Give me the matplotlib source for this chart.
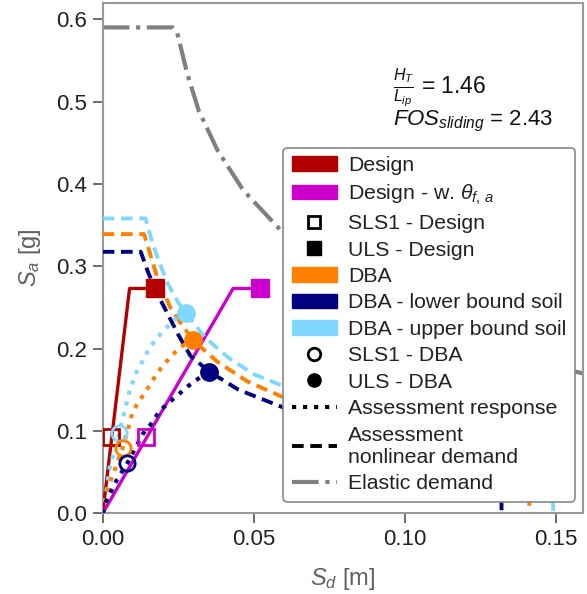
import matplotlib
matplotlib.use('Agg')
import matplotlib.pyplot as plt
from matplotlib.lines import Line2D
from matplotlib.patches import Patch

plt.rcParams['font.family'] = ['Liberation Sans', 'DejaVu Sans']
plt.rcParams['mathtext.fontset'] = 'custom'
plt.rcParams['mathtext.rm'] = 'Liberation Sans'
plt.rcParams['mathtext.it'] = 'Liberation Sans:italic'
plt.rcParams['mathtext.bf'] = 'Liberation Sans:bold'

# ---------------- data ----------------
# Elastic demand spectrum (ADRS)
elastic_sd = [0.0, 0.0232, 0.0247, 0.028, 0.0318, 0.038, 0.0466, 0.0589, 0.08, 0.10, 0.12, 0.14, 0.159]
elastic_sa = [0.59, 0.59, 0.583, 0.534, 0.489, 0.441, 0.392, 0.344, 0.277, 0.237, 0.208, 0.186, 0.170]

# Design capacity curves
design_sd = [0.0, 0.0089, 0.0173]
design_sa = [0.0, 0.273, 0.273]
design_sls = [0.00265, 0.093]
design_uls = [0.0173, 0.273]

designw_sd = [0.0, 0.0432, 0.0521]
designw_sa = [0.0, 0.273, 0.273]
designw_sls = [0.0142, 0.093]
designw_uls = [0.0521, 0.273]

# DBA assessment response (capacity) curves
dba_resp_sd = [0.0, 0.00185, 0.0066, 0.0101, 0.0146, 0.0184, 0.0229, 0.0267, 0.0300]
dba_resp_sa = [0.0, 0.032, 0.079, 0.125, 0.150, 0.172, 0.192, 0.204, 0.210]
dba_sls = [0.0066, 0.079]
dba_uls = [0.0300, 0.210]

lb_resp_sd = [0.0, 0.0013, 0.0046, 0.0082, 0.0134, 0.0157, 0.0190, 0.0250, 0.0278, 0.0306, 0.0353]
lb_resp_sa = [0.0, 0.016, 0.040, 0.061, 0.097, 0.107, 0.125, 0.144, 0.153, 0.161, 0.172]
lb_sls = [0.0082, 0.061]
lb_uls = [0.0353, 0.172]

ub_resp_sd = [0.0, 0.0008, 0.0024, 0.0055, 0.0068, 0.0090, 0.0113, 0.0157, 0.0201, 0.0245, 0.0276]
ub_resp_sa = [0.0, 0.016, 0.057, 0.097, 0.117, 0.150, 0.172, 0.202, 0.222, 0.237, 0.243]
ub_sls = [0.0055, 0.097]
ub_uls = [0.0276, 0.243]

# DBA assessment nonlinear demand curves
dba_dem_sd = [0.0, 0.0137, 0.0153, 0.018, 0.0225, 0.026, 0.0300, 0.038, 0.048, 0.0622, 0.09, 0.12, 0.1413, 0.1413]
dba_dem_sa = [0.339, 0.339, 0.320, 0.287, 0.249, 0.230, 0.210, 0.184, 0.160, 0.137, 0.109, 0.091, 0.082, 0.0]

lb_dem_sd = [0.0, 0.0126, 0.015, 0.018, 0.0214, 0.025, 0.0291, 0.0353, 0.045, 0.0622, 0.09, 0.12, 0.1321, 0.1321]
lb_dem_sa = [0.3175, 0.3175, 0.293, 0.267, 0.243, 0.217, 0.191, 0.172, 0.150, 0.125, 0.098, 0.080, 0.074, 0.0]

ub_dem_sd = [0.0, 0.0142, 0.016, 0.018, 0.0214, 0.025, 0.0276, 0.034, 0.042, 0.05, 0.0622, 0.09, 0.12, 0.1492, 0.1492]
ub_dem_sa = [0.358, 0.358, 0.334, 0.312, 0.280, 0.256, 0.243, 0.213, 0.188, 0.169, 0.151, 0.119, 0.099, 0.085, 0.0]

# ---------------- styles ----------------
c_design = '#B30000'
c_designw = '#CC00CC'
c_dba = '#FF8000'
c_lb = '#000080'
c_ub = '#80D8FF'
c_el = '#808080'

fig = plt.figure(figsize=(5.87, 5.94), dpi=100)
ax = fig.add_axes([102.7 / 587, (594 - 513.3) / 594, 480 / 587, 510.6 / 594])

# elastic demand
ax.plot(elastic_sd, elastic_sa, color=c_el, lw=3, ls='-.', zorder=2)

# design
ax.plot(design_sd, design_sa, color=c_design, lw=2.4, zorder=3)
ax.plot(*design_sls, marker='s', ms=11, mfc='none', mec=c_design, mew=2, ls='none', zorder=5)
ax.plot(*design_uls, marker='s', ms=12.5, color=c_design, ls='none', zorder=5)
ax.plot(designw_sd, designw_sa, color=c_designw, lw=2.4, zorder=3)
ax.plot(*designw_sls, marker='s', ms=11, mfc='none', mec=c_designw, mew=2, ls='none', zorder=5)
ax.plot(*designw_uls, marker='s', ms=12.5, color=c_designw, ls='none', zorder=5)

# DBA curves
for dsd, dsa, rsd, rsa, sls, uls, c in [
    (ub_dem_sd, ub_dem_sa, ub_resp_sd, ub_resp_sa, ub_sls, ub_uls, c_ub),
    (dba_dem_sd, dba_dem_sa, dba_resp_sd, dba_resp_sa, dba_sls, dba_uls, c_dba),
    (lb_dem_sd, lb_dem_sa, lb_resp_sd, lb_resp_sa, lb_sls, lb_uls, c_lb),
]:
    ax.plot(dsd, dsa, color=c, lw=2.8, ls=(0, (3.0, 1.7)), zorder=3)
    ax.plot(rsd, rsa, color=c, lw=3, ls=':', zorder=4)
    ax.plot(*sls, marker='o', ms=11, mfc='none', mec=c, mew=2, ls='none', zorder=5)
    ax.plot(*uls, marker='o', ms=12.5, color=c, ls='none', zorder=5)

ax.set_xlim(0, 0.159)
ax.set_ylim(0, 0.62)
ax.set_xticks([0.0, 0.05, 0.10, 0.15])
ax.set_xticklabels(['0.00', '0.05', '0.10', '0.15'])
ax.set_yticks([0.0, 0.1, 0.2, 0.3, 0.4, 0.5, 0.6])
ax.set_yticklabels(['0.0', '0.1', '0.2', '0.3', '0.4', '0.5', '0.6'])

for s in ax.spines.values():
    s.set_color('#999999')
    s.set_linewidth(1.5)
ax.tick_params(direction='out', length=7, width=1.2, color='#555555',
               labelsize=16, labelcolor='#222222', pad=4)

ax.set_xlabel('$S_d$ [m]', fontsize=17, color='#606060', labelpad=12)
ax.set_ylabel('$S_a$ [g]', fontsize=17, color='#606060', labelpad=10)

ax.text(0.605, 0.833, r'$\frac{H_T}{L_{ip}}$ = 1.46', transform=ax.transAxes,
        fontsize=16.5, ha='left', va='center', color='#111111')
ax.text(0.605, 0.768, r'$FOS_{sliding}$ = 2.43', transform=ax.transAxes,
        fontsize=16, ha='left', va='center', color='#111111')

handles = [
    Patch(facecolor=c_design, edgecolor=c_design),
    Patch(facecolor=c_designw, edgecolor=c_designw),
    Line2D([], [], marker='s', ms=9, mfc='none', mec='k', mew=2, ls='none'),
    Line2D([], [], marker='s', ms=9.5, color='k', ls='none'),
    Patch(facecolor=c_dba, edgecolor=c_dba),
    Patch(facecolor=c_lb, edgecolor=c_lb),
    Patch(facecolor=c_ub, edgecolor=c_ub),
    Line2D([], [], marker='o', ms=9, mfc='none', mec='k', mew=2, ls='none'),
    Line2D([], [], marker='o', ms=9.5, color='k', ls='none'),
    Line2D([], [], color='k', lw=3, ls=':'),
    Line2D([], [], color='k', lw=2.8, ls=(0, (3.0, 1.7))),
    Line2D([], [], color=c_el, lw=3, ls='-.'),
]
labels = [
    'Design',
    r'Design - w. $\theta_{f,\,a}$',
    'SLS1 - Design',
    'ULS - Design',
    'DBA',
    'DBA - lower bound soil',
    'DBA - upper bound soil',
    'SLS1 - DBA',
    'ULS - DBA',
    'Assessment response',
    'Assessment\nnonlinear demand',
    'Elastic demand',
]
leg = ax.legend(handles, labels, loc='lower right', bbox_to_anchor=(0.984, 0.023),
                borderaxespad=0, fontsize=15.3, framealpha=1, facecolor='white',
                edgecolor='#888888', handlelength=2.1, handleheight=0.7,
                handletextpad=0.55, labelspacing=0.35, borderpad=0.4, fancybox=True)
leg.get_frame().set_linewidth(1.2)
for t in leg.get_texts():
    t.set_color('#222222')

fig.savefig('out.png', dpi=100)
